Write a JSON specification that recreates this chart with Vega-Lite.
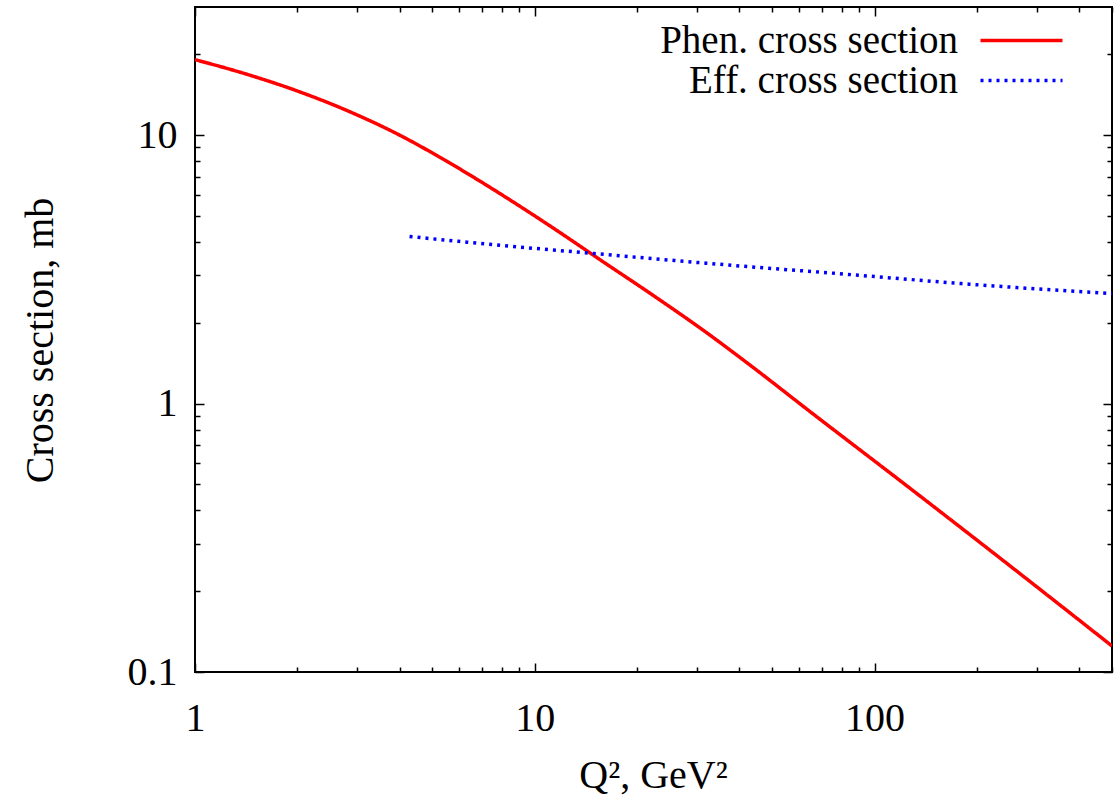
{
  "$schema": "https://vega.github.io/schema/vega-lite/v6.json",
  "width": 917,
  "height": 665,
  "autosize": {"type": "none"},
  "padding": {"left": 195, "top": 7, "right": 8, "bottom": 125},
  "background": "white",
  "config": {
    "font": "Liberation Serif",
    "view": {"stroke": "black", "strokeWidth": 2},
    "axis": {"grid": false, "domain": false, "tickColor": "black", "tickWidth": 1.5, "labelColor": "black", "titleColor": "black", "labelFont": "Liberation Serif", "titleFont": "Liberation Serif", "labelFontSize": 40, "titleFontSize": 40, "titleFontWeight": "normal", "labelFlush": false, "labelOverlap": false},
    "legend": {
      "orient": "none", "legendX": 807, "legendY": 14, "padding": 0,
      "labelAlign": "right", "labelOffset": -83, "labelFont": "Liberation Serif", "labelFontSize": 39, "labelColor": "black", "labelLimit": 500,
      "symbolType": "M-2.343,0H2.343", "symbolSize": 1225, "symbolStrokeWidth": 3.5, "rowPadding": -5
    }
  },
  "data": {"values": [
    {"q2": 1, "xs": 19.1, "series": "Phen. cross section"},
    {"q2": 1.41, "xs": 16.9, "series": "Phen. cross section"},
    {"q2": 2, "xs": 14.6, "series": "Phen. cross section"},
    {"q2": 2.82, "xs": 12.3, "series": "Phen. cross section"},
    {"q2": 4, "xs": 10.0, "series": "Phen. cross section"},
    {"q2": 5.62, "xs": 7.87, "series": "Phen. cross section"},
    {"q2": 7.94, "xs": 6.03, "series": "Phen. cross section"},
    {"q2": 11.2, "xs": 4.55, "series": "Phen. cross section"},
    {"q2": 15.8, "xs": 3.39, "series": "Phen. cross section"},
    {"q2": 22.4, "xs": 2.52, "series": "Phen. cross section"},
    {"q2": 31.6, "xs": 1.86, "series": "Phen. cross section"},
    {"q2": 44.7, "xs": 1.34, "series": "Phen. cross section"},
    {"q2": 63.1, "xs": 0.955, "series": "Phen. cross section"},
    {"q2": 126, "xs": 0.488, "series": "Phen. cross section"},
    {"q2": 251, "xs": 0.248, "series": "Phen. cross section"},
    {"q2": 500, "xs": 0.125, "series": "Phen. cross section"},
    {"q2": 4.28, "xs": 4.19, "series": "Eff. cross section"},
    {"q2": 8, "xs": 3.88, "series": "Eff. cross section"},
    {"q2": 15, "xs": 3.62, "series": "Eff. cross section"},
    {"q2": 30.4, "xs": 3.35, "series": "Eff. cross section"},
    {"q2": 85.6, "xs": 3.02, "series": "Eff. cross section"},
    {"q2": 200, "xs": 2.77, "series": "Eff. cross section"},
    {"q2": 500, "xs": 2.57, "series": "Eff. cross section"}
  ]},
  "layer": [
    {
      "mark": {"type": "line", "strokeWidth": 3.5, "strokeCap": "butt", "interpolate": "monotone", "clip": true},
      "encoding": {
        "x": {"field": "q2", "type": "quantitative", "scale": {"type": "log", "domain": [1, 500], "nice": false},
          "axis": {"orient": "bottom", "values": [1, 10, 100], "format": "~g", "tickSize": -9, "labelPadding": 35, "title": "Q², GeV²", "titleX": 458, "titleY": 115, "titleBaseline": "alphabetic", "titleAnchor": "middle", "titleAlign": "center"}},
        "y": {"field": "xs", "type": "quantitative", "scale": {"type": "log", "domain": [0.1, 30], "nice": false},
          "axis": {"orient": "left", "values": [0.1, 1, 10], "format": "~g", "tickSize": -9, "labelPadding": 27, "title": "Cross section, mb", "titleX": -143, "titleY": 333, "titleAngle": -90, "titleBaseline": "alphabetic", "titleAlign": "center"}},
        "color": {"field": "series", "type": "nominal", "scale": {"domain": ["Phen. cross section", "Eff. cross section"], "range": ["#ff0000", "#0000ff"]}, "legend": {"title": null}},
        "strokeDash": {"field": "series", "type": "nominal", "scale": {"domain": ["Phen. cross section", "Eff. cross section"], "range": [[1, 0], [3, 5]]}, "legend": {"title": null}}
      }
    },
    {
      "mark": {"type": "line", "opacity": 0},
      "encoding": {
        "x": {"field": "q2", "type": "quantitative", "axis": {"orient": "bottom", "values": [2, 3, 4, 5, 6, 7, 8, 9, 20, 30, 40, 50, 60, 70, 80, 90, 200, 300, 400, 500], "labels": false, "tickSize": -5, "title": null}},
        "y": {"field": "xs", "type": "quantitative", "axis": {"orient": "left", "values": [0.2, 0.3, 0.4, 0.5, 0.6, 0.7, 0.8, 0.9, 2, 3, 4, 5, 6, 7, 8, 9, 20], "labels": false, "tickSize": -5, "title": null}}
      }
    },
    {
      "mark": {"type": "line", "opacity": 0},
      "encoding": {
        "x": {"field": "q2", "type": "quantitative", "axis": {"orient": "top", "values": [1, 10, 100], "labels": false, "tickSize": -9, "title": null}},
        "y": {"field": "xs", "type": "quantitative", "axis": {"orient": "right", "values": [0.1, 1, 10], "labels": false, "tickSize": -9, "title": null}}
      }
    },
    {
      "mark": {"type": "line", "opacity": 0},
      "encoding": {
        "x": {"field": "q2", "type": "quantitative", "axis": {"orient": "top", "values": [2, 3, 4, 5, 6, 7, 8, 9, 20, 30, 40, 50, 60, 70, 80, 90, 200, 300, 400, 500], "labels": false, "tickSize": -5, "title": null}},
        "y": {"field": "xs", "type": "quantitative", "axis": {"orient": "right", "values": [0.2, 0.3, 0.4, 0.5, 0.6, 0.7, 0.8, 0.9, 2, 3, 4, 5, 6, 7, 8, 9, 20], "labels": false, "tickSize": -5, "title": null}}
      }
    }
  ],
  "resolve": {"axis": {"x": "independent", "y": "independent"}}
}
